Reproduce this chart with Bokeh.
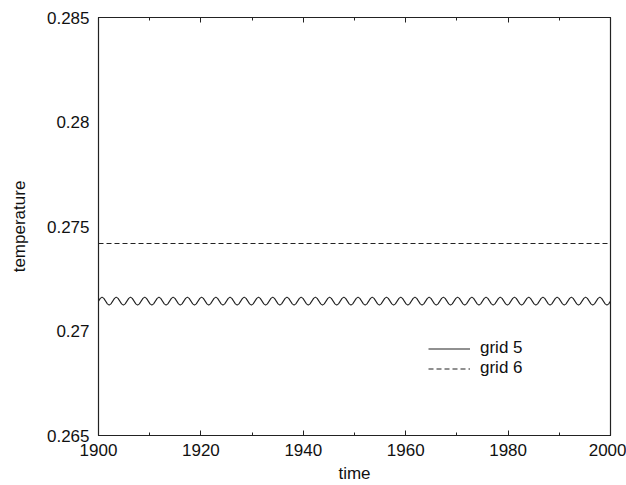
from bokeh.plotting import figure
from bokeh.models import LinearAxis, Legend, LegendItem, FixedTicker, Range1d, CustomJSTickFormatter
from bokeh.embed import file_html
from bokeh.resources import INLINE
import numpy as np

# ---- data ----
x_ticks = [1900, 1920, 1940, 1960, 1980, 2000]
x_minor = [1900, 1910, 1920, 1930, 1940, 1950, 1960, 1970, 1980, 1990, 2000]
y_ticks = [0.265, 0.27, 0.275, 0.28, 0.285]
y_tick_labels = ["0.265", "0.27", "0.275", "0.28", "0.285"]

# grid 6: flat line
grid6_time = [1900, 2000]
grid6_temp = [0.27419, 0.27419]

# grid 5: small oscillation (~36 periods), 8 samples per period
grid5_temp = [
    0.27143, 0.27156, 0.27162, 0.27156, 0.27143, 0.27130, 0.27124, 0.27130,
    0.27143, 0.27156, 0.27162, 0.27156, 0.27143, 0.27130, 0.27124, 0.27130,
    0.27143, 0.27156, 0.27162, 0.27156, 0.27143, 0.27130, 0.27124, 0.27130,
    0.27143, 0.27156, 0.27162, 0.27156, 0.27143, 0.27130, 0.27124, 0.27130,
    0.27143, 0.27156, 0.27162, 0.27156, 0.27143, 0.27130, 0.27124, 0.27130,
    0.27143, 0.27156, 0.27162, 0.27156, 0.27143, 0.27130, 0.27124, 0.27130,
    0.27143, 0.27156, 0.27162, 0.27156, 0.27143, 0.27130, 0.27124, 0.27130,
    0.27143, 0.27156, 0.27162, 0.27156, 0.27143, 0.27130, 0.27124, 0.27130,
    0.27143, 0.27156, 0.27162, 0.27156, 0.27143, 0.27130, 0.27124, 0.27130,
    0.27143, 0.27156, 0.27162, 0.27156, 0.27143, 0.27130, 0.27124, 0.27130,
    0.27143, 0.27156, 0.27162, 0.27156, 0.27143, 0.27130, 0.27124, 0.27130,
    0.27143, 0.27156, 0.27162, 0.27156, 0.27143, 0.27130, 0.27124, 0.27130,
    0.27143, 0.27156, 0.27162, 0.27156, 0.27143, 0.27130, 0.27124, 0.27130,
    0.27143, 0.27156, 0.27162, 0.27156, 0.27143, 0.27130, 0.27124, 0.27130,
    0.27143, 0.27156, 0.27162, 0.27156, 0.27143, 0.27130, 0.27124, 0.27130,
    0.27143, 0.27156, 0.27162, 0.27156, 0.27143, 0.27130, 0.27124, 0.27130,
    0.27143, 0.27156, 0.27162, 0.27156, 0.27143, 0.27130, 0.27124, 0.27130,
    0.27143, 0.27156, 0.27162, 0.27156, 0.27143, 0.27130, 0.27124, 0.27130,
    0.27143, 0.27156, 0.27162, 0.27156, 0.27143, 0.27130, 0.27124, 0.27130,
    0.27143, 0.27156, 0.27162, 0.27156, 0.27143, 0.27130, 0.27124, 0.27130,
    0.27143, 0.27156, 0.27162, 0.27156, 0.27143, 0.27130, 0.27124, 0.27130,
    0.27143, 0.27156, 0.27162, 0.27156, 0.27143, 0.27130, 0.27124, 0.27130,
    0.27143, 0.27156, 0.27162, 0.27156, 0.27143, 0.27130, 0.27124, 0.27130,
    0.27143, 0.27156, 0.27162, 0.27156, 0.27143, 0.27130, 0.27124, 0.27130,
    0.27143, 0.27156, 0.27162, 0.27156, 0.27143, 0.27130, 0.27124, 0.27130,
    0.27143, 0.27156, 0.27162, 0.27156, 0.27143, 0.27130, 0.27124, 0.27130,
    0.27143, 0.27156, 0.27162, 0.27156, 0.27143, 0.27130, 0.27124, 0.27130,
    0.27143, 0.27156, 0.27162, 0.27156, 0.27143, 0.27130, 0.27124, 0.27130,
    0.27143, 0.27156, 0.27162, 0.27156, 0.27143, 0.27130, 0.27124, 0.27130,
    0.27143, 0.27156, 0.27162, 0.27156, 0.27143, 0.27130, 0.27124, 0.27130,
    0.27143, 0.27156, 0.27162, 0.27156, 0.27143, 0.27130, 0.27124, 0.27130,
    0.27143, 0.27156, 0.27162, 0.27156, 0.27143, 0.27130, 0.27124, 0.27130,
    0.27143, 0.27156, 0.27162, 0.27156, 0.27143, 0.27130, 0.27124, 0.27130,
    0.27143, 0.27156, 0.27162, 0.27156, 0.27143, 0.27130, 0.27124, 0.27130,
    0.27143, 0.27156, 0.27162, 0.27156, 0.27143, 0.27130, 0.27124, 0.27130,
    0.27143, 0.27156, 0.27162, 0.27156, 0.27143, 0.27130, 0.27124, 0.27130,
    0.27143,
]
grid5_time = list(np.linspace(1900, 2000, len(grid5_temp)))

FONT = "Liberation Sans"
INK = "#222222"
TXT = "#111111"

p = figure(width=626, height=485, output_backend="svg", toolbar_location=None,
           x_range=Range1d(1900, 2000), y_range=Range1d(0.265, 0.285),
           min_border_left=98, min_border_right=16, min_border_top=17,
           min_border_bottom=48, background_fill_color="white",
           border_fill_color="white")

p.grid.visible = False
p.outline_line_color = INK
p.outline_line_width = 1.2

xa = p.xaxis[0]
xa.ticker = FixedTicker(ticks=x_ticks, minor_ticks=x_minor)
xa.axis_label = "time"
ya = p.yaxis[0]
ya.ticker = FixedTicker(ticks=y_ticks, minor_ticks=[])
ya.major_label_overrides = {t: s for t, s in zip(y_ticks, y_tick_labels)}
ya.axis_label = "temperature"

for ax in (xa, ya):
    ax.axis_line_color = INK
    ax.major_label_text_font = FONT
    ax.major_label_text_font_size = "17px"
    ax.major_label_text_color = TXT
    ax.axis_label_text_font = FONT
    ax.axis_label_text_font_size = "17px"
    ax.axis_label_text_font_style = "normal"
    ax.axis_label_text_color = TXT

xa.major_tick_in = 5
xa.major_tick_out = 0
xa.minor_tick_in = 3
xa.minor_tick_out = 0
xa.major_tick_line_color = INK
xa.minor_tick_line_color = INK
xa.major_label_standoff = 8
xa.axis_label_standoff = 5

ya.major_tick_line_color = None
ya.minor_tick_line_color = None
ya.major_tick_in = 0
ya.major_tick_out = 0
ya.major_label_standoff = 9
ya.axis_label_standoff = 15

top = LinearAxis(ticker=FixedTicker(ticks=x_ticks, minor_ticks=x_minor),
                 formatter=CustomJSTickFormatter(code="return ''"),
                 major_tick_in=5, major_tick_out=0,
                 minor_tick_in=3, minor_tick_out=0, axis_line_color=INK,
                 major_tick_line_color=INK, minor_tick_line_color=INK,
                 major_label_standoff=0, major_label_text_font_size="1px")
p.add_layout(top, "above")

r5 = p.line(grid5_time, grid5_temp, line_color=INK, line_width=1.1)
r6 = p.line(grid6_time, grid6_temp, line_color=INK, line_width=1.1, line_dash="5 3")

legend = Legend(items=[LegendItem(label="grid 5", renderers=[r5]),
                       LegendItem(label="grid 6", renderers=[r6])],
                location=(330, 57), border_line_color=None, background_fill_alpha=0,
                padding=0, margin=0, spacing=0, glyph_width=42, glyph_height=17,
                label_height=17, label_standoff=10,
                label_text_font=FONT, label_text_font_size="17px",
                label_text_color=TXT)
p.add_layout(legend, "center")

open("out.html", "w").write(file_html(p, INLINE))
